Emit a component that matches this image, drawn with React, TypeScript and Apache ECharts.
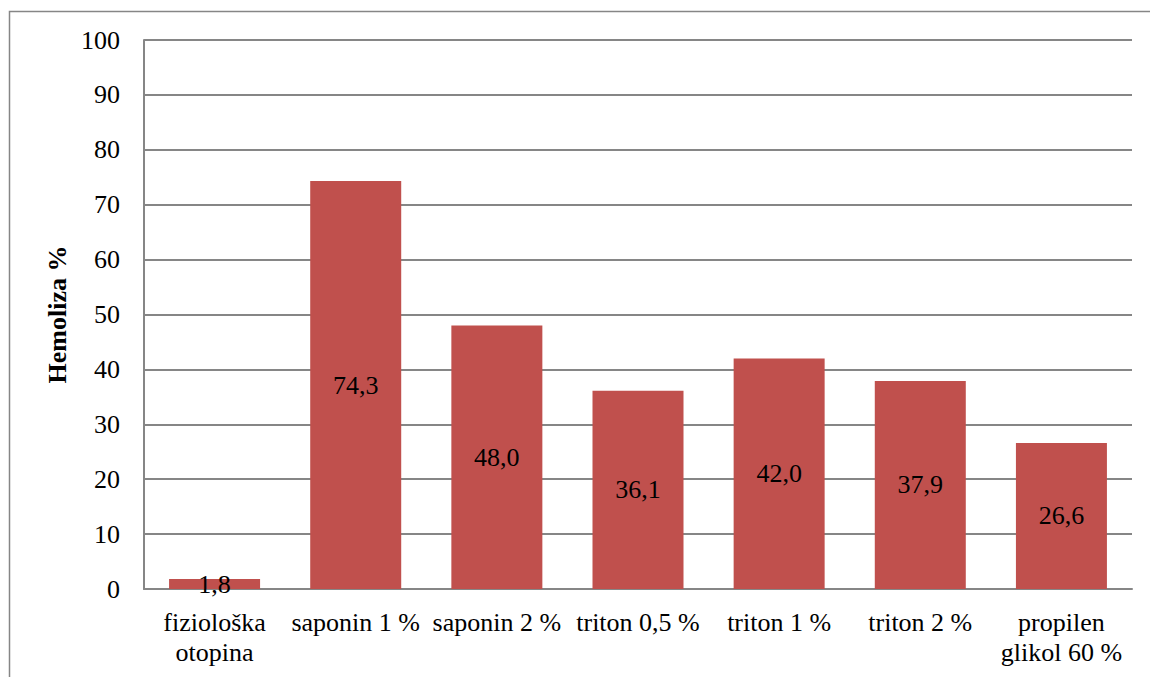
import React, { useEffect, useRef } from "react";
import * as echarts from "echarts";

const categories = [
  "fiziološka\notopina",
  "saponin 1 %",
  "saponin 2 %",
  "triton 0,5 %",
  "triton 1 %",
  "triton 2 %",
  "propilen\nglikol 60 %",
];
const values = [1.8, 74.3, 48.0, 36.1, 42.0, 37.9, 26.6];
const yAxisTitle = "Hemoliza %";

const FONT = "'Liberation Serif', 'Times New Roman', serif";

export default function App() {
  const ref = useRef<HTMLDivElement>(null);
  useEffect(() => {
    document.body.style.margin = "0";
    const chart = echarts.init(ref.current!, null, { renderer: "svg" });
    chart.setOption({
      animation: false,
      backgroundColor: "#ffffff",
      graphic: [
        {
          type: "rect",
          shape: { x: 9.5, y: 11.5, width: 1200, height: 700 },
          style: { fill: "none", stroke: "#868686", lineWidth: 1.5 },
          silent: true,
        },
      ],
      grid: { left: 144, right: 18, top: 40, bottom: 88, containLabel: false },
      xAxis: {
        type: "category",
        data: categories,
        axisLine: { show: true, lineStyle: { color: "#868686", width: 2 } },
        axisTick: { show: false },
        axisLabel: {
          interval: 0,
          color: "#000",
          fontFamily: FONT,
          fontSize: 26,
          lineHeight: 30,
          margin: 18,
        },
      },
      yAxis: {
        type: "value",
        min: 0,
        max: 100,
        interval: 10,
        name: yAxisTitle,
        nameLocation: "middle",
        nameGap: 71,
        nameRotate: 90,
        nameTextStyle: {
          color: "#000",
          fontFamily: FONT,
          fontSize: 26,
          fontWeight: "bold",
        },
        axisLine: { show: true, lineStyle: { color: "#868686", width: 2 } },
        axisTick: { show: false },
        axisLabel: {
          color: "#000",
          fontFamily: FONT,
          fontSize: 26,
          margin: 24,
        },
        splitLine: { show: true, lineStyle: { color: "#868686", width: 2 } },
      },
      series: [
        {
          type: "bar",
          data: values,
          barWidth: 91,
          itemStyle: { color: "#C0504D" },
          label: {
            show: true,
            position: "inside",
            color: "#000",
            fontFamily: FONT,
            fontSize: 26,
            formatter: (p: any) => p.value.toFixed(1).replace(".", ","),
          },
        },
      ],
    });
    return () => chart.dispose();
  }, []);
  return <div ref={ref} style={{ width: 1150, height: 677 }} />;
}
